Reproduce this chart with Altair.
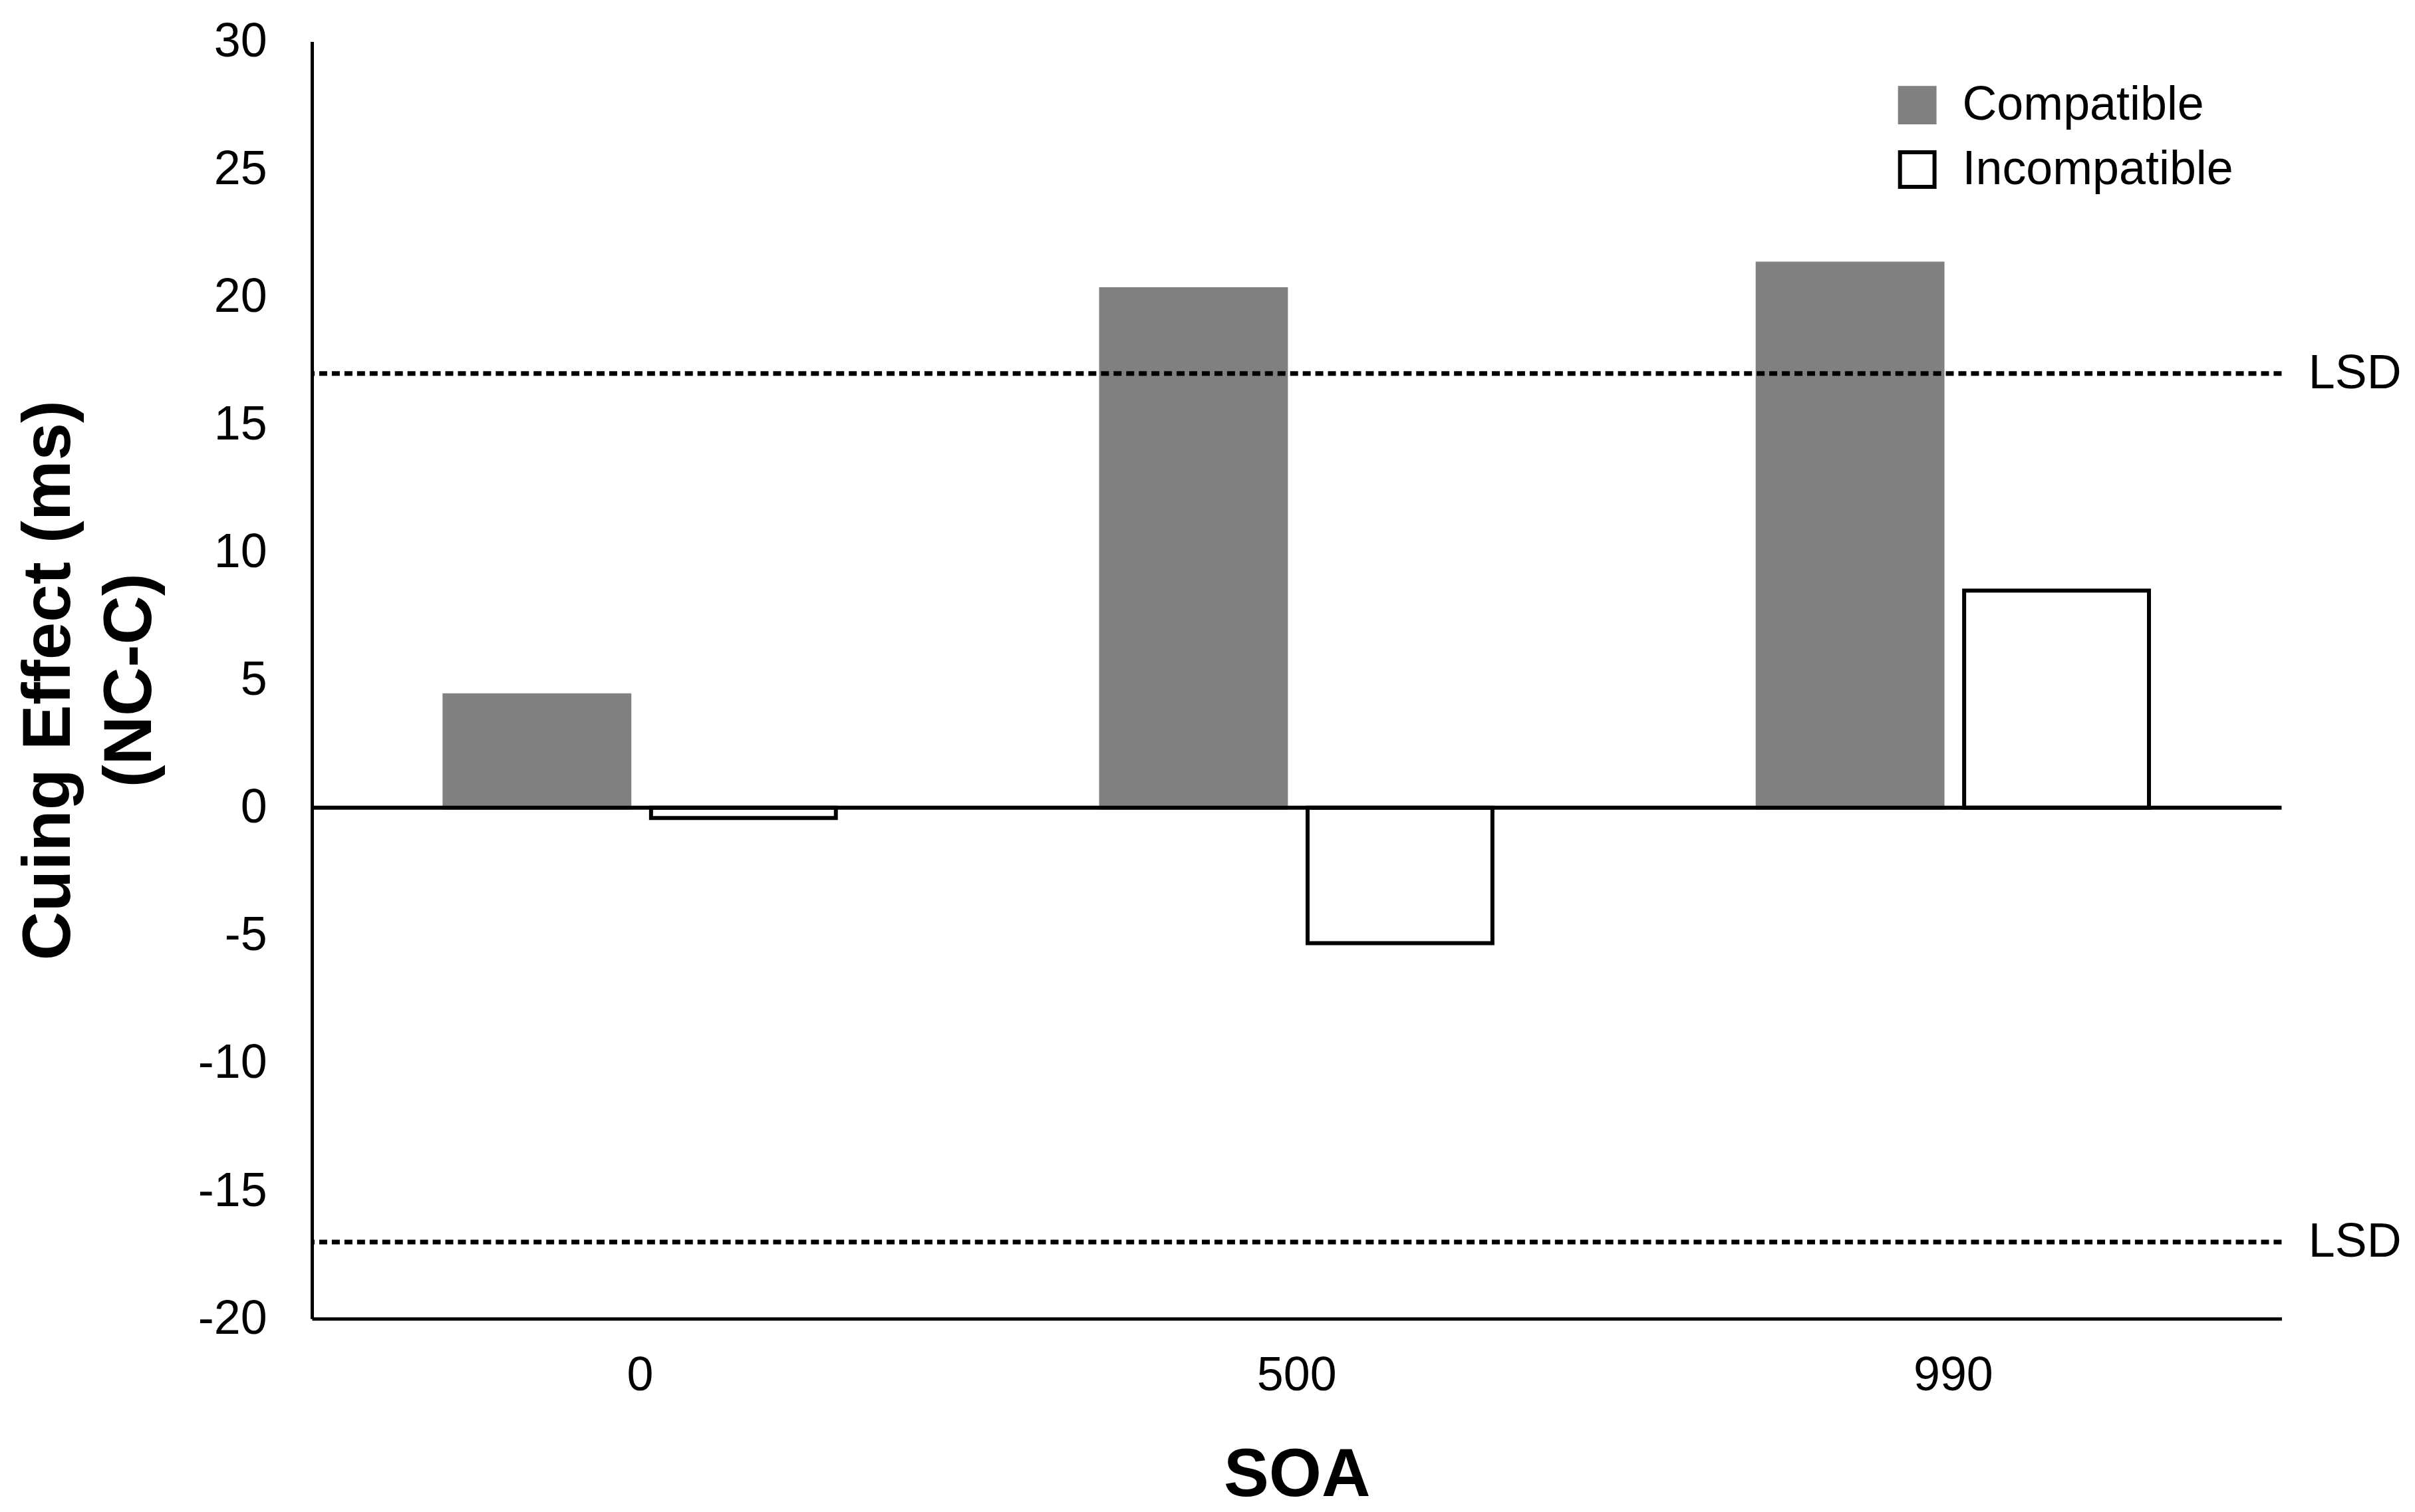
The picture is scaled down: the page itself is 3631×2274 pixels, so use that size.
import altair as alt
import pandas as pd

# ---- data ----
soa = ["0", "500", "990"]
conditions = ["Compatible", "Incompatible"]
compatible = [4.4, 20.3, 21.3]
incompatible = [-0.4, -5.3, 8.5]
lsd = [17, -17]
zero_line = [0]
y_ticks = [-20, -15, -10, -5, 0, 5, 10, 15, 20, 25, 30]

rows = []
for i, s in enumerate(soa):
    rows.append({"SOA": s, "Condition": "Compatible", "value": compatible[i]})
    rows.append({"SOA": s, "Condition": "Incompatible", "value": incompatible[i]})
bars_df = pd.DataFrame(rows)
zero_df = pd.DataFrame({"value": zero_line})
lsd_df = pd.DataFrame({"value": lsd})

W, H = 2968, 1925
FONT = "Liberation Sans"

yscale = alt.Scale(domain=[-20, 30], nice=False)

leg = alt.Legend(
    orient="none", legendX=2383, legendY=60, title=None, direction="vertical",
    symbolType="square", symbolSize=2704, symbolStrokeWidth=6,
    labelFontSize=72, labelFont=FONT, labelColor="black", labelOffset=32,
    labelLimit=0, rowPadding=21, padding=0,
    labelExpr="datum.label == 'Incompatible' ? '\u00a0\u00a0Incompatible' : datum.label",
)

bars = alt.Chart(bars_df).mark_bar(strokeWidth=6).encode(
    x=alt.X(
        "SOA:N", sort=soa,
        scale=alt.Scale(paddingInner=0.404, paddingOuter=0.202),
        axis=alt.Axis(
            title="SOA", labelAngle=0, ticks=False, tickSize=0, grid=False,
            domainWidth=5, domainColor="black",
            labelFontSize=72, labelColor="black", labelFont=FONT,
            labelBaseline="alphabetic", labelPadding=108,
            titleFontSize=102, titleFontWeight="bold", titleColor="black", titleFont=FONT,
            titleBaseline="alphabetic", titleAlign="center", titleX=W / 2, titleY=267,
        ),
    ),
    xOffset=alt.XOffset("Condition:N", sort=conditions,
                        scale=alt.Scale(paddingInner=0.105, paddingOuter=0)),
    y=alt.Y(
        "value:Q", scale=yscale,
        axis=alt.Axis(
            values=y_ticks, labelExpr="'' + datum.value", grid=False, ticks=False, tickSize=0,
            domainWidth=5, domainColor="black",
            labelFontSize=72, labelColor="black", labelFont=FONT, labelPadding=68,
            title=["Cuing Effect (ms)", "(NC-C)"],
            titleFontSize=102, titleFontWeight="bold", titleColor="black", titleFont=FONT,
            titleAngle=270, titleX=-365, titleY=H / 2, titleAlign="center",
            titleBaseline="alphabetic", titleLineHeight=122,
        ),
    ),
    fill=alt.Fill("Condition:N",
                  scale=alt.Scale(domain=conditions, range=["#808080", "#ffffff"]),
                  legend=leg),
    stroke=alt.Stroke("Condition:N",
                      scale=alt.Scale(domain=conditions, range=["#808080", "#000000"]),
                      legend=leg),
)

zero = alt.Chart(zero_df).mark_rule(color="black", strokeWidth=6).encode(
    y=alt.Y("value:Q", scale=yscale, axis=None)
)

lsd_rules = alt.Chart(lsd_df).mark_rule(color="black", strokeWidth=7, strokeDash=[12, 7]).encode(
    y=alt.Y(
        "value:Q", scale=yscale,
        axis=alt.Axis(
            orient="right", values=lsd, labelExpr="'LSD'", domain=False, ticks=False,
            tickSize=0, grid=False, title=None, labelPadding=40, labelFontSize=72,
            labelColor="black", labelFont=FONT, labelAlign="left",
        ),
    )
)

chart = alt.layer(bars, zero, lsd_rules).resolve_axis(y="independent").properties(
    width=W, height=H,
    padding={"left": 462, "top": 52, "right": 193, "bottom": 289},
    autosize=alt.AutoSizeParams(type="none"),
).configure(font=FONT).configure_view(stroke=None)

chart.save("out.html", embed_options={"renderer": "svg", "actions": False})
